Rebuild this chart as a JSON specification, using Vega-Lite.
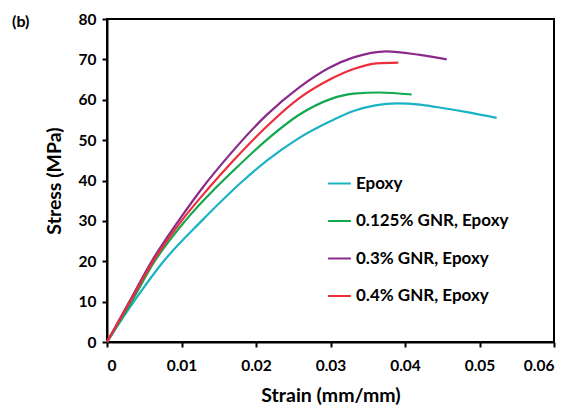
{
  "$schema": "https://vega.github.io/schema/vega-lite/v6.json",
  "autosize": {"type": "none"},
  "padding": {"left": 107, "top": 19, "right": 17, "bottom": 67},
  "width": 447,
  "height": 323,
  "background": "white",
  "config": {
    "font": "Lato",
    "view": {"stroke": "black", "strokeWidth": 2},
    "axis": {"grid": false, "domainColor": "black", "domainWidth": 2, "tickColor": "black", "tickWidth": 2, "tickSize": 5, "labelFont": "Lato", "labelFontWeight": "bold", "labelFontSize": 15.5, "labelColor": "black", "titleFont": "Lato", "titleFontWeight": "bold", "titleFontSize": 19.5, "titleColor": "black"}
  },
  "title": {"text": "(b)", "anchor": "start", "frame": "group", "dx": -95, "dy": 18, "fontSize": 16, "font": "Lato", "fontWeight": "bold", "color": "black", "offset": 0},
  "data": {"values": [
    {"s": "Epoxy", "strain": 0, "stress": 0},
    {"s": "Epoxy", "strain": 0.0036, "stress": 10},
    {"s": "Epoxy", "strain": 0.0076, "stress": 20},
    {"s": "Epoxy", "strain": 0.0127, "stress": 30},
    {"s": "Epoxy", "strain": 0.0183, "stress": 40},
    {"s": "Epoxy", "strain": 0.0215, "stress": 45.0},
    {"s": "Epoxy", "strain": 0.0255, "stress": 50.2},
    {"s": "Epoxy", "strain": 0.0299, "stress": 54.6},
    {"s": "Epoxy", "strain": 0.0331, "stress": 57.2},
    {"s": "Epoxy", "strain": 0.0360, "stress": 58.6},
    {"s": "Epoxy", "strain": 0.0389, "stress": 59.1},
    {"s": "Epoxy", "strain": 0.0420, "stress": 58.8},
    {"s": "Epoxy", "strain": 0.0442, "stress": 58.2},
    {"s": "Epoxy", "strain": 0.0487, "stress": 56.8},
    {"s": "Epoxy", "strain": 0.0523, "stress": 55.5},
    {"s": "0.125% GNR, Epoxy", "strain": 0, "stress": 0},
    {"s": "0.125% GNR, Epoxy", "strain": 0.0033, "stress": 10},
    {"s": "0.125% GNR, Epoxy", "strain": 0.0064, "stress": 20},
    {"s": "0.125% GNR, Epoxy", "strain": 0.0105, "stress": 30},
    {"s": "0.125% GNR, Epoxy", "strain": 0.0145, "stress": 38.0},
    {"s": "0.125% GNR, Epoxy", "strain": 0.0170, "stress": 42.5},
    {"s": "0.125% GNR, Epoxy", "strain": 0.0214, "stress": 50.0},
    {"s": "0.125% GNR, Epoxy", "strain": 0.0259, "stress": 56.4},
    {"s": "0.125% GNR, Epoxy", "strain": 0.0299, "stress": 60.1},
    {"s": "0.125% GNR, Epoxy", "strain": 0.0331, "stress": 61.5},
    {"s": "0.125% GNR, Epoxy", "strain": 0.0366, "stress": 61.8},
    {"s": "0.125% GNR, Epoxy", "strain": 0.0409, "stress": 61.3},
    {"s": "0.3% GNR, Epoxy", "strain": 0, "stress": 0},
    {"s": "0.3% GNR, Epoxy", "strain": 0.0030, "stress": 10},
    {"s": "0.3% GNR, Epoxy", "strain": 0.0060, "stress": 20},
    {"s": "0.3% GNR, Epoxy", "strain": 0.0096, "stress": 30},
    {"s": "0.3% GNR, Epoxy", "strain": 0.0129, "stress": 38.4},
    {"s": "0.3% GNR, Epoxy", "strain": 0.0161, "stress": 45.6},
    {"s": "0.3% GNR, Epoxy", "strain": 0.0214, "stress": 56.2},
    {"s": "0.3% GNR, Epoxy", "strain": 0.0259, "stress": 63.2},
    {"s": "0.3% GNR, Epoxy", "strain": 0.0299, "stress": 68.0},
    {"s": "0.3% GNR, Epoxy", "strain": 0.0331, "stress": 70.5},
    {"s": "0.3% GNR, Epoxy", "strain": 0.0375, "stress": 72.0},
    {"s": "0.3% GNR, Epoxy", "strain": 0.0420, "stress": 71.1},
    {"s": "0.3% GNR, Epoxy", "strain": 0.0456, "stress": 70.0},
    {"s": "0.4% GNR, Epoxy", "strain": 0, "stress": 0},
    {"s": "0.4% GNR, Epoxy", "strain": 0.0031, "stress": 10},
    {"s": "0.4% GNR, Epoxy", "strain": 0.0062, "stress": 20},
    {"s": "0.4% GNR, Epoxy", "strain": 0.0100, "stress": 30},
    {"s": "0.4% GNR, Epoxy", "strain": 0.0136, "stress": 38.0},
    {"s": "0.4% GNR, Epoxy", "strain": 0.0170, "stress": 45.0},
    {"s": "0.4% GNR, Epoxy", "strain": 0.0214, "stress": 53.3},
    {"s": "0.4% GNR, Epoxy", "strain": 0.0259, "stress": 60.5},
    {"s": "0.4% GNR, Epoxy", "strain": 0.0299, "stress": 65.0},
    {"s": "0.4% GNR, Epoxy", "strain": 0.0331, "stress": 67.6},
    {"s": "0.4% GNR, Epoxy", "strain": 0.0362, "stress": 69.0},
    {"s": "0.4% GNR, Epoxy", "strain": 0.0391, "stress": 69.2}
  ]},
  "mark": {"type": "line", "strokeWidth": 2.2, "interpolate": "monotone"},
  "encoding": {
    "x": {"field": "strain", "type": "quantitative", "title": "Strain (mm/mm)", "scale": {"domain": [0, 0.06], "nice": false, "zero": true}, "axis": {"values": [0, 0.01, 0.02, 0.03, 0.04, 0.05, 0.06], "format": ".2~f", "labelPadding": 11, "titlePadding": 13}},
    "y": {"field": "stress", "type": "quantitative", "title": "Stress (MPa)", "scale": {"domain": [0, 80], "nice": false}, "axis": {"values": [0, 10, 20, 30, 40, 50, 60, 70, 80], "labelPadding": 6, "titlePadding": 14}},
    "color": {"field": "s", "type": "nominal", "title": null,
      "scale": {"domain": ["Epoxy", "0.125% GNR, Epoxy", "0.3% GNR, Epoxy", "0.4% GNR, Epoxy"], "range": ["#1AB3C3", "#11A84F", "#8A2A8C", "#EE2D3A"]},
      "legend": {"orient": "none", "legendX": 220, "legendY": 152, "symbolType": "stroke", "symbolStrokeWidth": 2, "symbolSize": 520, "labelFont": "Lato", "labelFontWeight": "bold", "labelFontSize": 17, "labelColor": "black", "rowPadding": 16.5, "labelOffset": 4}}
  }
}
